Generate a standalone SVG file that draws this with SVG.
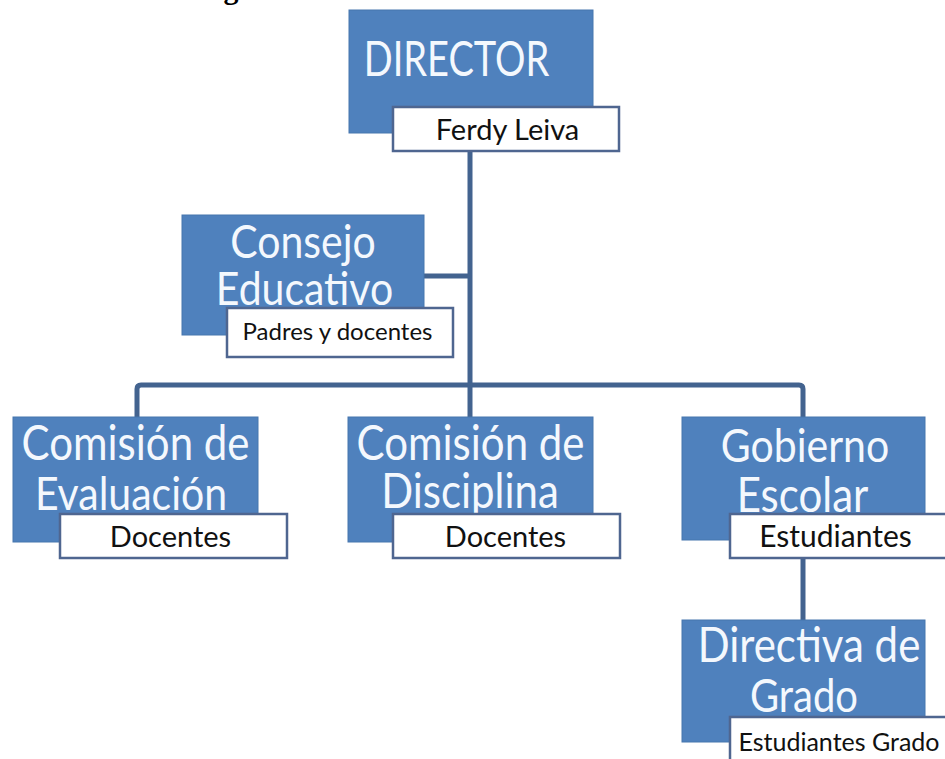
<svg xmlns="http://www.w3.org/2000/svg" width="945" height="759" viewBox="0 0 945 759">
<style>
.box{fill:#4F81BD;stroke:#4776AE;stroke-width:1}
.lab{fill:#FFFFFF;stroke:#4F6690;stroke-width:2.5}
.h{font-family:Lato,"Liberation Sans",sans-serif;fill:#F4F8FD;text-anchor:middle}
.s{font-family:Lato,"Liberation Sans",sans-serif;fill:#111111;text-anchor:middle}
.con{fill:none;stroke:#43638F;stroke-width:5;stroke-linejoin:round}
.title{font-family:"Liberation Serif","Times New Roman",serif;font-weight:bold;font-size:30px;fill:#000}
</style>
<rect width="945" height="759" fill="#FFFFFF"/>
<text class="title" x="12" y="-1">La estructura organizacional</text>
<g id="connectors">
<path class="con" d="M470 151 V385"/>
<path class="con" d="M424 276 H470"/>
<path class="con" d="M137 417 V389 Q137 385 141 385 H799 Q803 385 803 389 V417"/>
<path class="con" d="M470 385 V417"/>
<path class="con" d="M803 558 V620"/>
</g>
<g id="director">
<rect class="box" x="349" y="10" width="244" height="123"/>
<text class="h" transform="translate(456.5,76) scale(1,1.25)" font-size="38">DIRECTOR</text>
<rect class="lab" x="393" y="107" width="226" height="44"/>
<text class="s" x="507.5" y="140" font-size="29">Ferdy Leiva</text>
</g>
<g id="consejo">
<rect class="box" x="182" y="215" width="242" height="120"/>
<text class="h" transform="translate(303,258) scale(1,1.15)" font-size="41">Consejo</text>
<text class="h" transform="translate(304.5,305) scale(1,1.15)" font-size="41">Educativo</text>
<rect class="lab" x="227" y="308" width="226" height="49"/>
<text class="s" x="337.5" y="340" font-size="24">Padres y docentes</text>
</g>
<g id="evaluacion">
<rect class="box" x="13" y="417" width="245" height="125"/>
<text class="h" transform="translate(135.5,460) scale(1,1.15)" font-size="42">Comisión de</text>
<text class="h" transform="translate(131,510) scale(1,1.15)" font-size="41">Evaluación</text>
<rect class="lab" x="60" y="514" width="227" height="44"/>
<text class="s" x="170.5" y="547" font-size="29">Docentes</text>
</g>
<g id="disciplina">
<rect class="box" x="348" y="417" width="245" height="125"/>
<text class="h" transform="translate(470.5,460) scale(1,1.15)" font-size="42">Comisión de</text>
<text class="h" transform="translate(470,508) scale(1,1.15)" font-size="42">Disciplina</text>
<rect class="lab" x="393" y="514" width="227" height="44"/>
<text class="s" x="505.5" y="547" font-size="29">Docentes</text>
</g>
<g id="gobierno">
<rect class="box" x="682" y="417" width="243" height="123"/>
<text class="h" transform="translate(805,462) scale(1,1.15)" font-size="41">Gobierno</text>
<text class="h" transform="translate(802.5,512) scale(1,1.15)" font-size="42">Escolar</text>
<rect class="lab" x="730" y="514" width="220" height="44"/>
<text class="s" x="835.5" y="547" font-size="30">Estudiantes</text>
</g>
<g id="directiva">
<rect class="box" x="682" y="620" width="243" height="122"/>
<text class="h" transform="translate(809,662) scale(1,1.15)" font-size="42">Directiva de</text>
<text class="h" transform="translate(804,712) scale(1,1.15)" font-size="40">Grado</text>
<rect class="lab" x="730" y="717" width="220" height="46"/>
<text class="s" x="839" y="751" font-size="25">Estudiantes Grado</text>
</g>
</svg>
